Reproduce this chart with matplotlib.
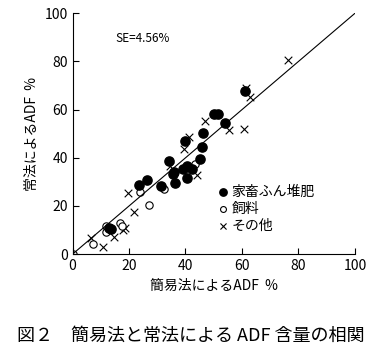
import matplotlib
matplotlib.use("Agg")
import matplotlib.pyplot as plt

plt.rcParams['font.family'] = ['Noto Sans CJK JP', 'DejaVu Sans']

# 家畜ふん堆肥
taihi_x = [61.0, 50.1, 51.6, 54.0, 46.3, 39.9, 46.0, 34.0, 45.3, 39.2, 40.4, 42.4,
           35.9, 35.4, 36.4, 40.5, 31.2, 26.3, 23.7, 13.5, 13.0]
taihi_y = [67.9, 58.2, 58.2, 54.3, 50.1, 47.1, 44.6, 38.8, 39.6, 35.2, 36.7, 35.3,
           33.9, 33.2, 29.6, 31.7, 28.4, 30.7, 28.9, 10.5, 10.8]
# 飼料
shiryo_x = [0.0, 7.1, 11.7, 11.7, 16.8, 17.5, 23.8, 27.2, 32.3, 43.3]
shiryo_y = [0.0, 4.2, 11.8, 9.0, 13.0, 11.6, 25.8, 20.6, 26.9, 37.3]
# その他
sonota_x = [6.4, 10.8, 14.6, 17.7, 18.7, 19.5, 21.6, 34.5, 39.4, 41.1, 46.9, 44.2,
            55.5, 60.7, 61.6, 62.8, 76.4]
sonota_y = [6.5, 2.8, 7.3, 10.2, 10.9, 25.5, 17.5, 36.5, 43.5, 48.5, 55.4, 32.8,
            51.5, 51.9, 68.8, 65.1, 80.6]

fig = plt.figure(figsize=(3.82, 3.51), dpi=100)
ax = fig.add_axes([0.190, 0.276, 0.739, 0.686])

ax.plot([0, 100], [0, 100], color='black', lw=0.8)
ax.scatter(sonota_x, sonota_y, marker='x', s=30, color='black', linewidths=0.8, label='その他')
ax.scatter(shiryo_x, shiryo_y, marker='o', s=28, facecolors='white', edgecolors='black',
           linewidths=0.8, label='飼料')
ax.scatter(taihi_x, taihi_y, marker='o', s=44, color='black', label='家畜ふん堆肥')

ax.set_xlim(0, 100)
ax.set_ylim(0, 100)
ax.set_xticks(range(0, 101, 20))
ax.set_yticks(range(0, 101, 20))
ax.tick_params(direction='in', length=4, labelsize=10, width=0.8)
ax.spines['top'].set_visible(False)
ax.spines['right'].set_visible(False)
ax.set_xlabel('簡易法によるADF  %', fontsize=10)
ax.set_ylabel('常法によるADF  %', fontsize=10)

ax.text(0.15, 0.88, 'SE=4.56%', transform=ax.transAxes, fontsize=8.5)

h, l = ax.get_legend_handles_labels()
ax.legend(h[::-1], l[::-1], loc='upper left', bbox_to_anchor=(0.49, 0.31), frameon=False,
          fontsize=10, handletextpad=0.1, labelspacing=0.2, handlelength=1.0,
          borderaxespad=0, markerscale=0.8)

fig.text(0.5, 0.03, '図２　簡易法と常法による ADF 含量の相関', ha='center', fontsize=13)

fig.savefig('out.png', dpi=100)
